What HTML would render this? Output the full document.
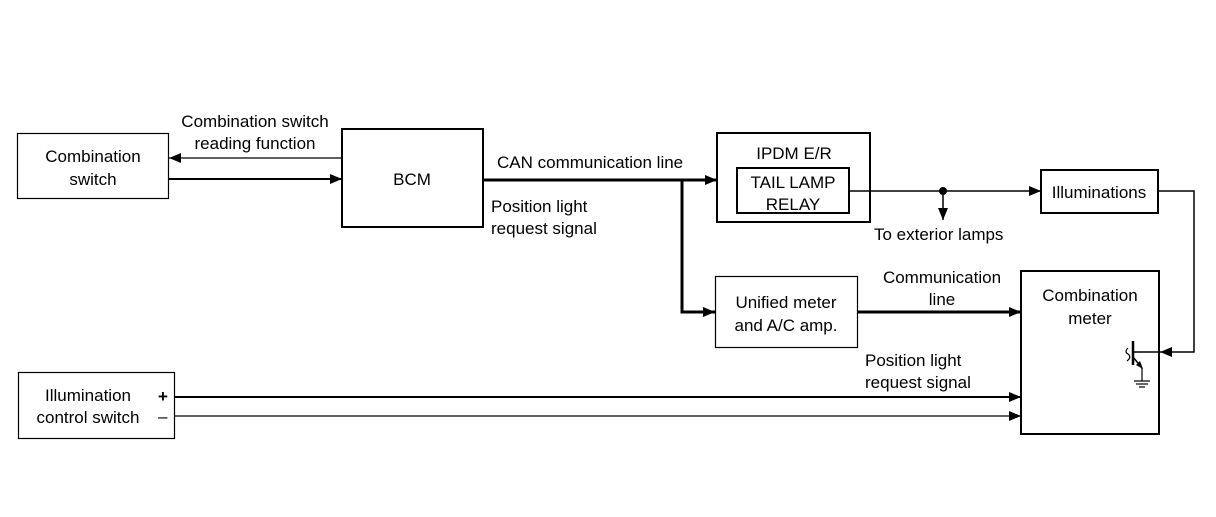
<!DOCTYPE html>
<html><head><meta charset="utf-8"><style>
html,body{margin:0;padding:0;background:#fff;}
svg text{font-family:"Liberation Sans",sans-serif;font-size:17px;fill:#000;}
</style></head><body>
<svg width="1216" height="512" viewBox="0 0 1216 512" xmlns="http://www.w3.org/2000/svg">
<defs>
<marker id="a" viewBox="0 0 12 10" refX="12" refY="5" markerWidth="12" markerHeight="11" markerUnits="userSpaceOnUse" orient="auto"><path d="M0,0 L12,5 L0,10 z" fill="#000"/></marker>
</defs>
<g fill="none" stroke="#000">
<rect x="17.5" y="133.5" width="151" height="65" stroke-width="1.2"/>
<rect x="342" y="129" width="141" height="98" stroke-width="2"/>
<rect x="717" y="133" width="153" height="89" stroke-width="2"/>
<rect x="737" y="168" width="112" height="45" stroke-width="2"/>
<rect x="1041" y="170" width="117" height="43" stroke-width="2"/>
<rect x="1021" y="271" width="138" height="163" stroke-width="2"/>
<rect x="715.5" y="276.5" width="142" height="71" stroke-width="1.2"/>
<rect x="18.5" y="372.5" width="156" height="66" stroke-width="1.2"/>
<line x1="342" y1="158" x2="169" y2="158" stroke-width="1.2" marker-end="url(#a)"/>
<line x1="168" y1="179" x2="342" y2="179" stroke-width="2" marker-end="url(#a)"/>
<line x1="483" y1="180" x2="717" y2="180" stroke-width="3" marker-end="url(#a)"/>
<polyline points="682,180 682,312 715,312" stroke-width="3" marker-end="url(#a)"/>
<line x1="857" y1="312" x2="1021" y2="312" stroke-width="3" marker-end="url(#a)"/>
<line x1="849" y1="191" x2="1041" y2="191" stroke-width="1.5" marker-end="url(#a)"/>
<line x1="943" y1="191" x2="943" y2="220" stroke-width="1.5" marker-end="url(#a)"/>
<polyline points="1158,191 1194,191 1194,352 1160,352" stroke-width="1.5" marker-end="url(#a)"/>
<line x1="1160" y1="352" x2="1133" y2="352" stroke-width="1.5"/>
<line x1="1133" y1="341" x2="1133" y2="365" stroke-width="2.5"/>
<line x1="1133" y1="357" x2="1142" y2="368" stroke-width="1.5"/>
<line x1="1142" y1="368" x2="1142" y2="381" stroke-width="1.2"/>
<line x1="1134" y1="381" x2="1150" y2="381" stroke-width="1.2"/>
<line x1="1136" y1="384" x2="1148" y2="384" stroke-width="1.2"/>
<line x1="1139" y1="387" x2="1145" y2="387" stroke-width="1.2"/>
<path d="M1128,348 q-4,4 0,6 q4,3 -1,7" stroke-width="1.2"/>
<line x1="175" y1="397" x2="1021" y2="397" stroke-width="2" marker-end="url(#a)"/>
<line x1="175" y1="416" x2="1021" y2="416" stroke-width="1.2" marker-end="url(#a)"/>
</g>
<circle cx="943" cy="191" r="4" fill="#000"/>
<polygon points="1136,365 1143,369 1140,361" fill="#000"/>
<g text-anchor="middle">
<text x="93" y="162">Combination</text>
<text x="93" y="185">switch</text>
<text x="412" y="185">BCM</text>
<text x="794" y="159">IPDM E/R</text>
<text x="793" y="188">TAIL LAMP</text>
<text x="793" y="210">RELAY</text>
<text x="1099" y="198">Illuminations</text>
<text x="1090" y="301">Combination</text>
<text x="1090" y="324">meter</text>
<text x="786" y="308">Unified meter</text>
<text x="786" y="331">and A/C amp.</text>
<text x="88" y="401">Illumination</text>
<text x="88" y="423">control switch</text>
<text x="255" y="127">Combination switch</text>
<text x="255" y="149">reading function</text>
<text x="942" y="283">Communication</text>
<text x="942" y="305">line</text>
</g>
<text x="158" y="402" style="font-weight:bold">+</text>
<text x="158" y="422">–</text>
<text x="497" y="168">CAN communication line</text>
<text x="491" y="212">Position light</text>
<text x="491" y="234">request signal</text>
<text x="874" y="240">To exterior lamps</text>
<text x="865" y="366">Position light</text>
<text x="865" y="388">request signal</text>
</svg>
</body></html>
